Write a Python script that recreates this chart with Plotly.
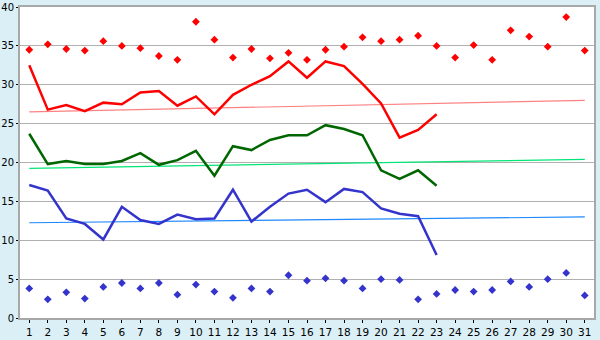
import plotly.graph_objects as go

days = list(range(1, 32))
line_days = list(range(1, 24))

max_points = [34.5, 35.2, 34.6, 34.4, 35.6, 35.0, 34.7, 33.7, 33.2, 38.1,
              35.8, 33.5, 34.6, 33.4, 34.1, 33.2, 34.5, 34.9, 36.1, 35.6,
              35.8, 36.3, 35.0, 33.5, 35.1, 33.2, 37.0, 36.2, 34.9, 38.7, 34.4]
min_points = [3.8, 2.4, 3.3, 2.5, 4.0, 4.5, 3.8, 4.5, 3.0, 4.3,
              3.4, 2.6, 3.8, 3.4, 5.5, 4.8, 5.1, 4.8, 3.8, 5.0,
              4.9, 2.4, 3.1, 3.6, 3.4, 3.6, 4.7, 4.0, 5.0, 5.8, 2.9]
max_line = [32.5, 26.8, 27.4, 26.6, 27.7, 27.5, 29.0, 29.2, 27.3, 28.5,
            26.2, 28.7, 30.0, 31.1, 33.0, 30.9, 33.0, 32.4, 30.1, 27.6,
            23.2, 24.2, 26.2]
mean_line = [23.7, 19.8, 20.2, 19.8, 19.8, 20.2, 21.2, 19.7, 20.3, 21.5,
             18.3, 22.1, 21.6, 22.9, 23.5, 23.5, 24.8, 24.3, 23.5, 19.0,
             17.9, 19.0, 17.0]
min_line = [17.1, 16.4, 12.8, 12.1, 10.1, 14.3, 12.6, 12.1, 13.3, 12.7,
            12.8, 16.5, 12.4, 14.3, 16.0, 16.5, 14.9, 16.6, 16.2, 14.1,
            13.4, 13.1, 8.1]
trend_days = [1, 31]
max_trend = [26.5, 28.0]
mean_trend = [19.25, 20.4]
min_trend = [12.25, 13.0]

y_ticks = [0, 5, 10, 15, 20, 25, 30, 35, 40]

RED = "#FF0000"
GREEN = "#006600"
BLUE = "#3434CC"

fig = go.Figure()
fig.add_trace(go.Scatter(x=trend_days, y=max_trend, mode="lines",
                         line=dict(color="#FF8080", width=1.2)))
fig.add_trace(go.Scatter(x=trend_days, y=mean_trend, mode="lines",
                         line=dict(color="#00E676", width=1.2)))
fig.add_trace(go.Scatter(x=trend_days, y=min_trend, mode="lines",
                         line=dict(color="#1E88FF", width=1.2)))
fig.add_trace(go.Scatter(x=line_days, y=max_line, mode="lines",
                         line=dict(color=RED, width=2.5)))
fig.add_trace(go.Scatter(x=line_days, y=mean_line, mode="lines",
                         line=dict(color=GREEN, width=2.5)))
fig.add_trace(go.Scatter(x=line_days, y=min_line, mode="lines",
                         line=dict(color=BLUE, width=2.5)))
fig.add_trace(go.Scatter(x=days, y=max_points, mode="markers",
                         marker=dict(color=RED, symbol="diamond", size=6)))
fig.add_trace(go.Scatter(x=days, y=min_points, mode="markers",
                         marker=dict(color=BLUE, symbol="diamond", size=6)))

fig.update_layout(
    width=600, height=340,
    margin=dict(l=20, r=6, t=7, b=22),
    paper_bgcolor="#DAEFF6",
    plot_bgcolor="#FFFFFF",
    showlegend=False,
    font=dict(family="DejaVu Sans", size=10, color="#000000"),
)
fig.update_xaxes(
    range=[0.5, 31.5], tickvals=days, ticktext=[str(d) for d in days],
    showgrid=False, zeroline=False, automargin=False,
    showline=True, linecolor="#A8A8A8", linewidth=2, mirror=True,
    ticks="outside", ticklen=3, tickcolor="#000000", tickwidth=1,
    tickfont=dict(size=10.5), ticklabeloverflow="allow",
)
fig.update_yaxes(
    range=[0, 40], tickvals=y_ticks, automargin=False,
    showgrid=True, gridcolor="#B0B0B0", gridwidth=1, zeroline=False,
    showline=True, linecolor="#A8A8A8", linewidth=2, mirror=True,
    ticks="outside", ticklen=2, tickcolor="#000000", tickwidth=1,
    tickfont=dict(size=10), ticklabeloverflow="allow",
)
fig.write_html("out.html")
